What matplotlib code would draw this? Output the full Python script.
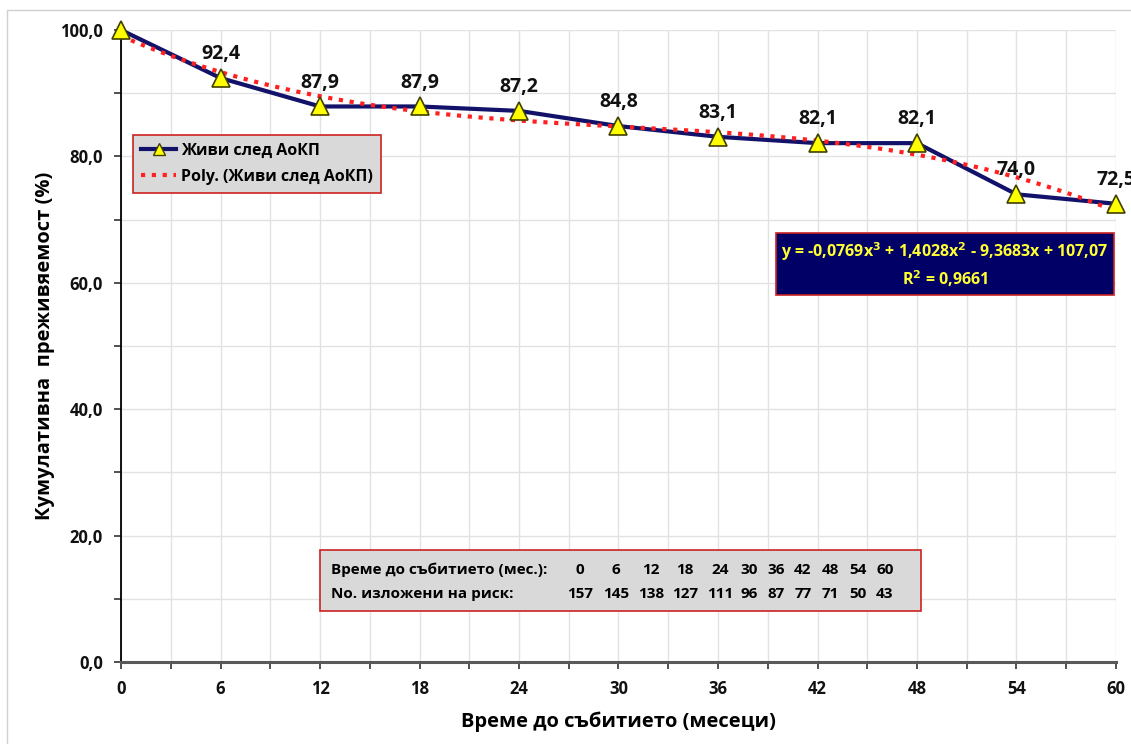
import numpy as np
import matplotlib
matplotlib.use("Agg")
import matplotlib.pyplot as plt
from matplotlib.patches import Rectangle
from matplotlib.lines import Line2D
from matplotlib.ticker import MultipleLocator, FuncFormatter

plt.rcParams['font.family'] = ['Open Sans', 'DejaVu Sans']
plt.rcParams['font.weight'] = 'bold'

# ---- data ----
months = [0, 6, 12, 18, 24, 30, 36, 42, 48, 54, 60]
survival = [100.0, 92.4, 87.9, 87.9, 87.2, 84.8, 83.1, 82.1, 82.1, 74.0, 72.5]
label_text = ["", "92,4", "87,9", "87,9", "87,2", "84,8", "83,1", "82,1", "82,1", "74,0", "72,5"]
table_times = ["0", "6", "12", "18", "24", "30", "36", "42", "48", "54", "60"]
table_at_risk = ["157", "145", "138", "127", "111", "96", "87", "77", "71", "50", "43"]
series_name = "Живи след АоКП"
trend_name = "Poly. (Живи след АоКП)"
equation = "y = -0,0769x$^3$ + 1,4028x$^2$ - 9,3683x + 107,07\nR$^2$ = 0,9661"
xlabel = "Време до събитието (месеци)"
ylabel = "Кумулативна  преживяемост (%)"
row1_title = "Време до събитието (мес.):"
row2_title = "No. изложени на риск:"

W, H = 1131, 744
fig = plt.figure(figsize=(W / 100, H / 100), dpi=100)
ax = fig.add_axes([121 / W, 1 - 662 / H, (1116 - 121) / W, (662 - 30) / H])

def fx(px):
    return px / W

def fy(py):
    return 1 - py / H

# figure border
fig.patches.append(Rectangle((fx(7), fy(760)), fx(1200), fy(10) - fy(760), transform=fig.transFigure,
                             fill=False, edgecolor='#d0d0d0', linewidth=1, zorder=0))

# trendline: cubic fit on point index (as Excel does)
idx = np.arange(1, len(survival) + 1)
coef = np.polyfit(idx, survival, 3)
xs = np.linspace(months[0], months[-1], 300)
ys = np.polyval(coef, xs / 6 + 1)

navy = '#12126a'
ax.plot(months, survival, color=navy, linewidth=3, zorder=3, clip_on=False)
ax.plot(xs, ys, color='#ff2020', linewidth=3, linestyle=(0, (1, 1.6)), zorder=4, clip_on=False)
ax.plot(months, survival, linestyle='none', marker='^', markersize=13,
        markerfacecolor='#ffff00', markeredgecolor='#404000', markeredgewidth=1.2, zorder=5, clip_on=False)

for m, v, t in zip(months, survival, label_text):
    if t:
        ax.annotate(t, (m, v), xytext=(0, 10), textcoords='offset points', ha='center', va='bottom',
                    fontsize=14, fontweight='bold', color='#111111', zorder=6, annotation_clip=False)

ax.set_xlim(0, 60)
ax.set_ylim(0, 100)
ax.xaxis.set_major_locator(MultipleLocator(6))
ax.xaxis.set_minor_locator(MultipleLocator(3))
ax.yaxis.set_major_locator(MultipleLocator(20))
ax.yaxis.set_minor_locator(MultipleLocator(10))
ax.yaxis.set_major_formatter(FuncFormatter(lambda v, p: f"{v:.1f}".replace('.', ',')))
ax.grid(True, which='both', color='#e2e2e2', linewidth=1)
ax.set_axisbelow(True)
for s in ['top', 'right']:
    ax.spines[s].set_visible(False)
ax.spines['left'].set_color('#000000')
ax.spines['left'].set_linewidth(1.3)
ax.spines['bottom'].set_color('#595959')
ax.spines['bottom'].set_linewidth(2.2)
ax.tick_params(axis='both', which='both', direction='out', length=5, width=1.2, color='#333333')
ax.tick_params(axis='both', which='major', labelsize=12, pad=8, labelcolor='#111111')
for lab in ax.get_xticklabels() + ax.get_yticklabels():
    lab.set_fontweight('bold')
ax.set_xlabel(xlabel, fontsize=14.5, fontweight='bold', labelpad=10)
ax.set_ylabel(ylabel, fontsize=14.5, fontweight='bold', labelpad=4)

# legend
handles = [Line2D([], [], color=navy, linewidth=3, marker='^', markersize=9,
                  markerfacecolor='#ffff00', markeredgecolor='#404000'),
           Line2D([], [], color='#ff2020', linewidth=3, linestyle=(0, (1, 1.6)))]
leg = fig.legend(handles, [series_name, trend_name], loc='upper left',
                 bbox_to_anchor=(fx(133), fy(135)), bbox_transform=fig.transFigure,
                 fancybox=False, framealpha=1, facecolor='#d9d9d9', edgecolor='#cc2222',
                 prop={'size': 11.5, 'weight': 'bold'}, handlelength=2.2, handletextpad=0.3,
                 borderpad=0.5, labelspacing=0.6, markerfirst=True, borderaxespad=0)
leg.get_frame().set_linewidth(1.2)

# equation box
fig.text(fx(945), fy(265), equation, ha='center', va='center', fontsize=11.5, fontweight='bold',
         color='#ffff33', linespacing=1.3,
         bbox=dict(boxstyle='square,pad=0.35', facecolor='#000066', edgecolor='#cc2222', linewidth=1.2))

# at-risk table
fig.patches.append(Rectangle((fx(320), fy(611)), fx(921) - fx(320), fy(550) - fy(611),
                             transform=fig.transFigure, facecolor='#d9d9d9', edgecolor='#cc2222',
                             linewidth=1.2, zorder=2))
col_x = [580, 616, 651, 685, 720, 749, 776, 803, 830, 858, 885]
fig.text(fx(331), fy(570), row1_title, ha='left', va='center', fontsize=11, fontweight='bold', zorder=3)
fig.text(fx(331), fy(594), row2_title, ha='left', va='center', fontsize=11, fontweight='bold', zorder=3)
for cx, t1, t2 in zip(col_x, table_times, table_at_risk):
    fig.text(fx(cx), fy(570), t1, ha='center', va='center', fontsize=11, fontweight='bold', zorder=3)
    fig.text(fx(cx), fy(594), t2, ha='center', va='center', fontsize=11, fontweight='bold', zorder=3)

fig.savefig("out.png", dpi=100)
